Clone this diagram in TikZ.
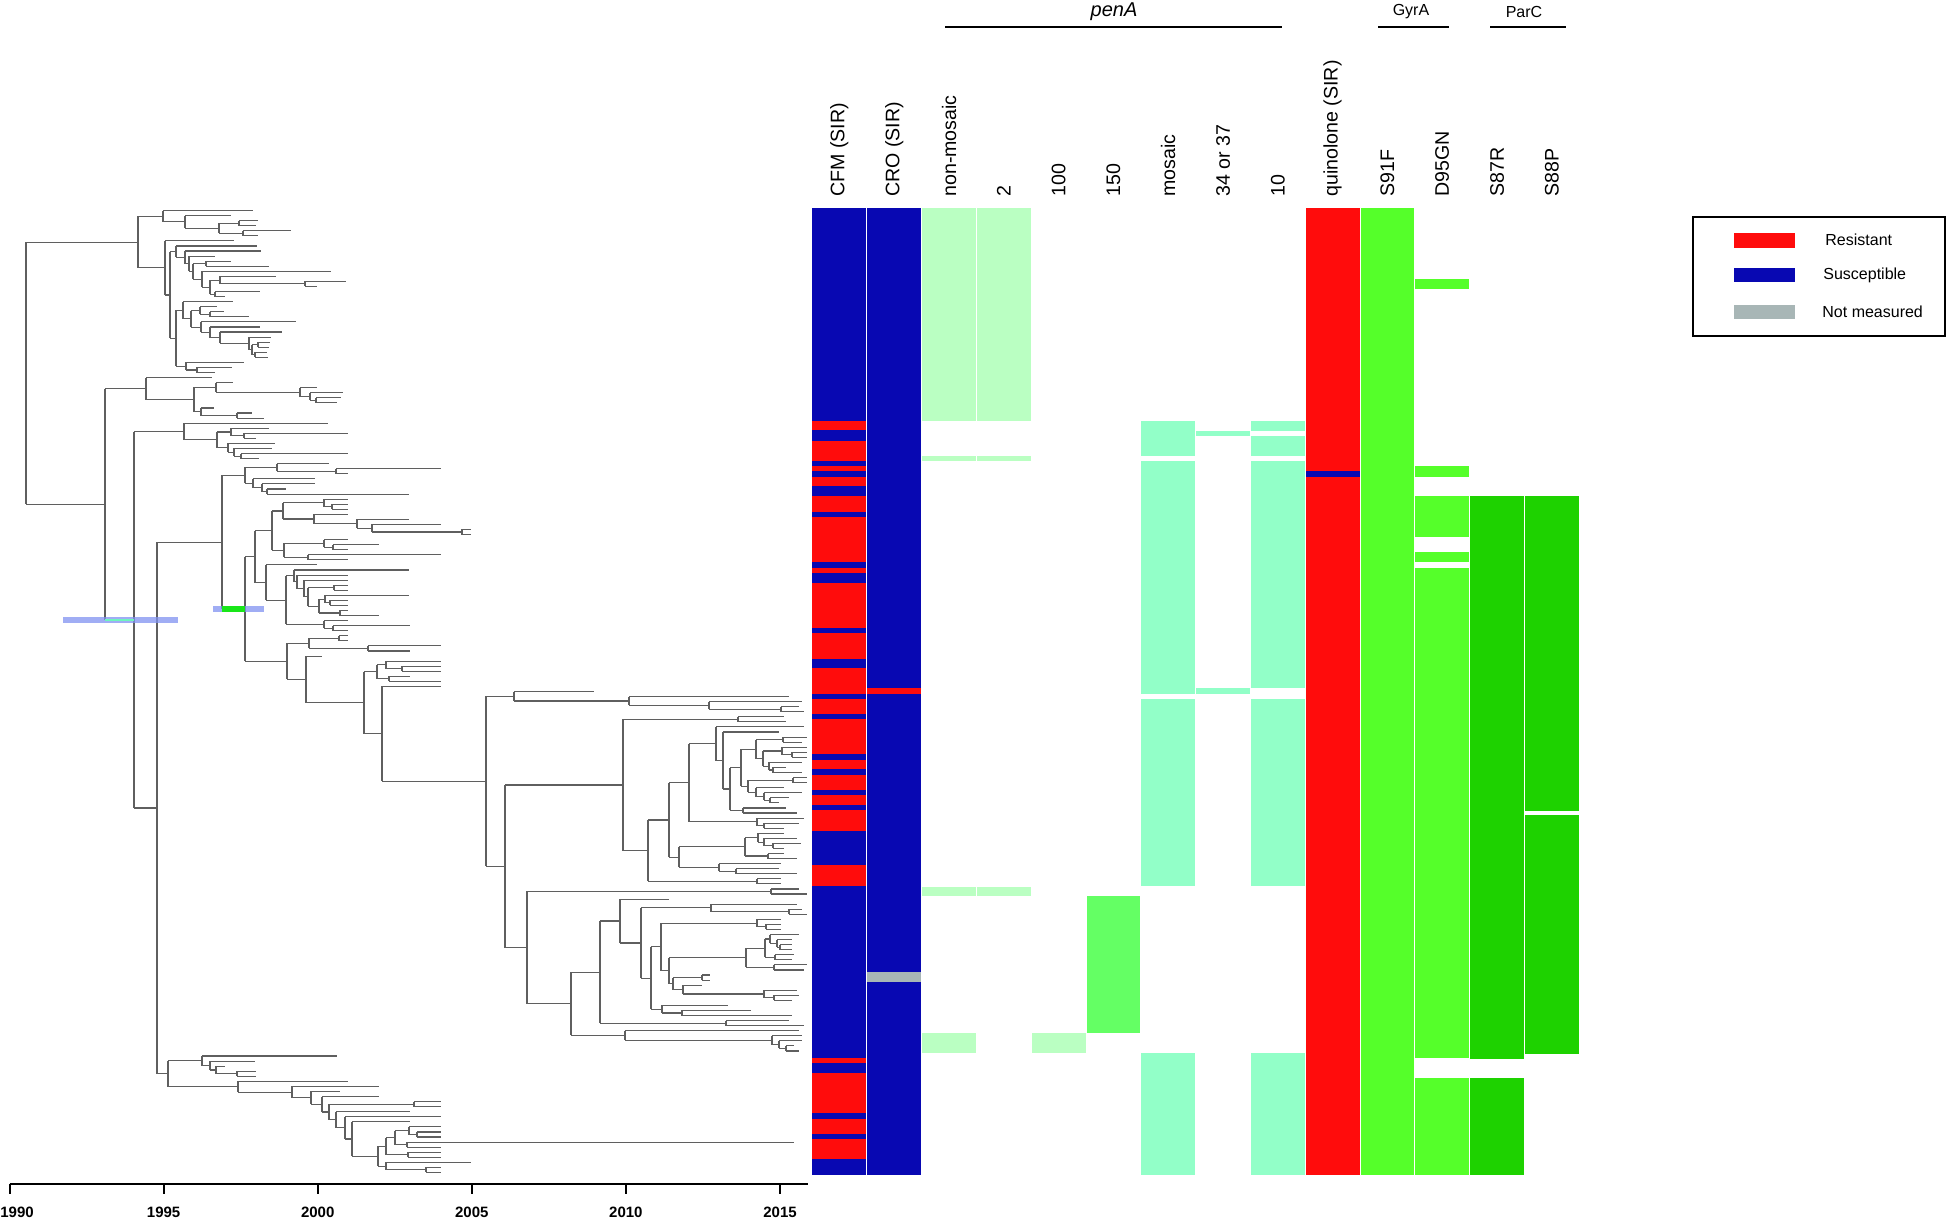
\documentclass[tikz,border=0pt]{standalone}
\usepackage{fontspec}
\setmainfont{Liberation Sans}

\definecolor{resred}{RGB}{255,12,12}
\definecolor{susblue}{RGB}{8,8,178}
\definecolor{nmgrey}{RGB}{168,182,182}
\definecolor{nonmos}{RGB}{186,255,194}
\definecolor{mosmint}{RGB}{146,255,200}
\definecolor{pengreen}{RGB}{100,255,100}
\definecolor{gyrgreen}{RGB}{85,255,42}
\definecolor{pargreen}{RGB}{30,210,0}
\definecolor{treegray}{RGB}{95,95,95}
\definecolor{barblue}{RGB}{128,145,240}
\definecolor{mintbr}{RGB}{110,245,190}
\definecolor{grnbr}{RGB}{25,230,25}

% tree helpers: tips are spread over the rows of the heat map
\newcount\leafno
\newif\iftreedraw
\def\rowh{5}
\def\cladex{26}
\newcommand\tipbr[1]{%
  \global\advance\leafno by 1
  \pgfmathsetmacro\tipy{208+(\the\leafno-0.5)*\rowh}%
  \iftreedraw\draw[branch] (\cladex,\tipy) -- (#1,\tipy);\fi
  \xdef\lasty{\tipy}}
\newcommand\clade[3]{{%
  \let\parentx\cladex\def\cladex{#1}%
  #2\let\ytop\lasty
  #3\let\ybot\lasty
  \pgfmathsetmacro\ymid{(\ytop+\ybot)/2}%
  \iftreedraw
    \draw[branch] (#1,\ytop) -- (#1,\ybot);
    \draw[branch] (\parentx,\ymid) -- (#1,\ymid);
  \fi
  \xdef\lasty{\ymid}}}

% upper clade
\newcommand\cladeua{%
  \clade{163}{\tipbr{253}}{%
    \clade{185}{\tipbr{231}}{%
      \clade{219}{\clade{239}{\tipbr{258}}{\tipbr{256}}}{\clade{243}{\tipbr{291}}{\tipbr{258}}}%
    }%
  }%
}
\newcommand\cladeub{%
  \clade{165}{\tipbr{234}}{%
    \clade{170}{%
      \clade{176}{\tipbr{257}}{%
        \clade{185}{\tipbr{261}}{%
          \clade{189}{\tipbr{215}}{%
            \clade{193}{\clade{206}{\tipbr{231}}{\tipbr{269}}}{%
              \clade{202}{\tipbr{331}}{%
                \clade{210}{\clade{220}{\tipbr{276}}{\clade{305}{\tipbr{346}}{\tipbr{317}}}}{\clade{215}{\tipbr{260}}{\tipbr{225}}}%
              }%
            }%
          }%
        }%
      }%
    }{%
      \clade{176}{%
        \clade{183}{\tipbr{233}}{%
          \clade{191}{\clade{200}{\tipbr{217}}{\clade{210}{\tipbr{224}}{\tipbr{249}}}}{%
            \clade{201}{\tipbr{296}}{%
              \clade{210}{\tipbr{260}}{%
                \clade{220}{\tipbr{282}}{%
                  \clade{249}{\tipbr{271}}{\clade{252}{\clade{258}{\tipbr{270}}{\tipbr{269}}}{\clade{255}{\tipbr{267}}{\tipbr{268}}}}%
                }%
              }%
            }%
          }%
        }%
      }{\clade{186}{\tipbr{244}}{\clade{197}{\tipbr{232}}{\tipbr{215}}}}%
    }%
  }%
}
\newcommand\cladeupper{\clade{138}{\cladeua}{\cladeub}}

% lower clade
\newcommand\cladebone{%
  \clade{146}{\tipbr{212}}{%
    \clade{194}{%
      \clade{216}{\tipbr{233}}{\clade{300}{\tipbr{317}}{\clade{310}{\tipbr{343}}{\clade{316}{\tipbr{341}}{\tipbr{337}}}}}%
    }{\clade{201}{\tipbr{214}}{\clade{237}{\tipbr{252}}{\tipbr{264}}}}%
  }%
}
\newcommand\cladebtwoa{%
  \clade{184}{\tipbr{328}}{%
    \clade{217}%
      {\clade{231}{\tipbr{269}}{\clade{244}{\tipbr{348}}{\tipbr{256}}}}%
      {\clade{228}{\tipbr{275}}{\clade{234}{\tipbr{272}}{\clade{241}{\tipbr{348}}{\tipbr{259}}}}}%
  }%
}
\newcommand\cladeearly{%
  \clade{245}%
    {\clade{277}{\tipbr{329}}{\clade{336}{\tipbr{441}}{\tipbr{348}}}}%
    {\clade{253}{\tipbr{315}}{\clade{262}{\tipbr{315}}{\clade{267}{\tipbr{286}}{\tipbr{409}}}}}%
}
\newcommand\cladeaa{%
  \clade{272}{%
    \clade{283}%
      {\clade{324}{\tipbr{348}}{\clade{332}{\tipbr{348}}{\tipbr{348}}}}%
      {\clade{314}{\tipbr{348}}{\clade{357}{\tipbr{409}}{\clade{372}{\tipbr{441}}{\clade{462}{\tipbr{471}}{\tipbr{471}}}}}}%
  }{%
    \clade{284}%
      {\clade{324}{\tipbr{348}}{\clade{333}{\tipbr{379}}{\tipbr{348}}}}%
      {\clade{308}{\tipbr{441}}{\tipbr{348}}}%
  }%
}
\newcommand\cladeab{%
  \clade{266}{\tipbr{317}}{%
    \clade{286}{%
      \clade{294}{\tipbr{409}}{%
        \clade{297}{\tipbr{348}}{%
          \clade{304}{\tipbr{348}}{%
            \clade{308}{\clade{334}{\tipbr{348}}{\tipbr{348}}}{%
              \clade{319}{\clade{325}{\tipbr{409}}{\clade{330}{\tipbr{348}}{\tipbr{348}}}}{\clade{340}{\tipbr{348}}{\tipbr{379}}}%
            }%
          }%
        }%
      }%
    }{\clade{324}{\tipbr{348}}{\clade{333}{\tipbr{410}}{\tipbr{348}}}}%
  }%
}
\newcommand\cladeqa{%
  \clade{514}{\tipbr{594}}{\clade{629}{\tipbr{789}}{\clade{709}{\tipbr{802}}{\clade{781}{\tipbr{799}}{\tipbr{804}}}}}%
}
\newcommand\cladeqb{%
  \clade{623}{\clade{738}{\tipbr{784}}{\tipbr{786}}}{%
    \clade{648}{%
      \clade{669}{%
        \clade{689}{%
          \clade{716}{\tipbr{804}}{%
            \clade{723}{\tipbr{779}}{%
              \clade{730}{%
                \clade{741}{%
                  \clade{756}{\clade{783}{\tipbr{807}}{\tipbr{802}}}{%
                    \clade{763}%
                      {\clade{782}{\tipbr{807}}{\clade{792}{\tipbr{807}}{\tipbr{807}}}}%
                      {\clade{769}{\tipbr{802}}{\clade{773}{\tipbr{786}}{\tipbr{802}}}}%
                  }%
                }{%
                  \clade{748}{\clade{793}{\tipbr{807}}{\tipbr{807}}}{%
                    \clade{756}{\tipbr{784}}{\clade{764}{\tipbr{802}}{\clade{770}{\tipbr{789}}{\tipbr{779}}}}%
                  }%
                }%
              }{\clade{743}{\tipbr{786}}{\tipbr{797}}}%
            }%
          }%
        }{\clade{757}{\tipbr{804}}{\clade{764}{\tipbr{799}}{\tipbr{784}}}}%
      }{%
        \clade{679}%
          {\clade{745}{\clade{758}{\tipbr{784}}{\clade{764}{\tipbr{797}}{\clade{773}{\tipbr{801}}{\tipbr{784}}}}}{\clade{768}{\tipbr{784}}{\tipbr{797}}}}%
          {\clade{719}{\tipbr{781}}{\clade{736}{\tipbr{779}}{\tipbr{797}}}}%
      }%
    }{\clade{757}{\tipbr{781}}{\tipbr{781}}}%
  }%
}
\newcommand\cladeqc{%
  \clade{527}{\clade{771}{\tipbr{799}}{\tipbr{807}}}{%
    \clade{571}{%
      \clade{600}{%
        \clade{620}{\tipbr{669}}{%
          \clade{641}{\clade{711}{\tipbr{797}}{\clade{789}{\tipbr{802}}{\tipbr{807}}}}{%
            \clade{651}{%
              \clade{661}{\clade{757}{\tipbr{781}}{\clade{766}{\tipbr{781}}{\tipbr{781}}}}{%
                \clade{669}{%
                  \clade{746}%
                    {\clade{765}{\clade{770}{\tipbr{799}}{\clade{777}{\tipbr{792}}{\clade{780}{\tipbr{792}}{\tipbr{792}}}}}{\clade{775}{\tipbr{794}}{\tipbr{792}}}}%
                    {\clade{774}{\tipbr{807}}{\tipbr{804}}}%
                }{%
                  \clade{673}{\clade{702}{\tipbr{710}}{\tipbr{710}}}{\clade{683}{\tipbr{702}}{\clade{764}{\tipbr{797}}{\clade{774}{\tipbr{799}}{\tipbr{792}}}}}%
                }%
              }%
            }{\clade{662}{\tipbr{728}}{\clade{682}{\tipbr{751}}{\tipbr{792}}}}%
          }%
        }%
      }{\clade{726}{\tipbr{789}}{\tipbr{804}}}%
    }{\clade{625}{\tipbr{799}}{\clade{772}{\tipbr{802}}{\clade{779}{\tipbr{802}}{\clade{786}{\tipbr{794}}{\tipbr{799}}}}}}%
  }%
}
\newcommand\cladeac{%
  \clade{287}%
    {\clade{309}{\clade{339}{\tipbr{348}}{\tipbr{348}}}{\clade{368}{\tipbr{441}}{\tipbr{410}}}}{%
    \clade{306}{\tipbr{322}}{%
      \clade{364}%
        {\clade{377}{\clade{386}{\tipbr{441}}{\clade{402}{\tipbr{441}}{\tipbr{441}}}}{\clade{389}{\tipbr{410}}{\tipbr{441}}}}{%
        \clade{382}{\tipbr{441}}{%
          \clade{486}{\cladeqa}{\clade{505}{\cladeqb}{\cladeqc}}%
        }%
      }%
    }%
  }%
}
\newcommand\cladebottom{%
  \clade{168}{\clade{202}{\tipbr{337}}{\clade{210}{\tipbr{255}}{\clade{216}{\tipbr{225}}{\clade{237}{\tipbr{256}}{\tipbr{256}}}}}}{%
    \clade{238}{\tipbr{348}}{%
      \clade{292}{\tipbr{379}}{%
        \clade{311}{\tipbr{340}}{%
          \clade{322}{\tipbr{379}}{%
            \clade{329}{\clade{414}{\tipbr{441}}{\tipbr{441}}}{%
              \clade{336}{\tipbr{410}}{%
                \clade{345}{\tipbr{441}}{%
                  \clade{352}{\tipbr{410}}{%
                    \clade{378}{%
                      \clade{386}%
                        {\clade{395}{\clade{409}{\tipbr{441}}{\clade{417}{\tipbr{441}}{\tipbr{441}}}}{\clade{407}{\tipbr{794}}{\tipbr{441}}}}%
                        {\clade{408}{\tipbr{441}}{\tipbr{441}}}%
                    }{\clade{386}{\tipbr{471}}{\clade{426}{\tipbr{441}}{\tipbr{441}}}}%
                  }%
                }%
              }%
            }%
          }%
        }%
      }%
    }%
  }%
}
\newcommand\phylo{%
  \clade{26}{\cladeupper}{%
    \clade{105}{\cladebone}{%
      \clade{134}{\cladebtwoa}{%
        \clade{157}{%
          \clade{222}{\cladeearly}{%
            \clade{245}{\clade{255}{\cladeaa}{\cladeab}}{\cladeac}%
            \global\let\ygreen\lasty}%
        }{\cladebottom}%
      }%
      \global\let\ymint\lasty}%
  }%
}

\begin{document}
\begin{tikzpicture}[x=0.5pt, y=-0.5pt,
    branch/.style={treegray, line width=0.55pt},
    colhead/.style={rotate=90, anchor=west, inner sep=0pt,
      font=\fontsize{9.8}{12}\selectfont},
    grouphead/.style={inner sep=0pt, font=\fontsize{8}{10}\selectfont},
    legtext/.style={anchor=west, inner sep=0pt, font=\fontsize{8}{10}\selectfont},
    yearlab/.style={inner sep=0pt, font=\bfseries\fontsize{7.5}{9}\selectfont}]
  \useasboundingbox (0,0) rectangle (1947,1219);
  % --- Left: dated tree (first pass counts the tips) ---
  \global\leafno=0 \treedrawfalse \phylo
  \pgfmathsetmacro\rowh{967/\the\leafno}
  \global\leafno=0 \treedrawtrue \phylo
  % node bars and coloured branches
  \fill[barblue, fill opacity=0.75] (63,{\ymint-3.2}) rectangle (178,{\ymint+3.2});
  \draw[mintbr, line width=1.2pt] (105,\ymint) -- (134,\ymint);
  \fill[barblue, fill opacity=0.75] (213,{\ygreen-3.2}) rectangle (264,{\ygreen+3.2});
  \fill[grnbr] (222,{\ygreen-3.2}) rectangle (245,{\ygreen+3.2});
  % time axis
  \draw[line width=1pt] (9.5,1184) -- (808,1184);
  \foreach \k in {0,...,5}
    \draw[line width=1pt] ({9.5+154.1*\k},1184) -- ({9.5+154.1*\k},1194);
  \node[yearlab, anchor=west] (yr1990) at (0,1212) {1990};
  \foreach \yr [count=\k from 1] in {1995,2000,...,2015}
    \node[yearlab] (yr\yr) at ({9.5+154.1*\k},1212) {\yr};
  % --- Right: heat map, one column per trait ---
  \foreach \k/\c/\a/\b in {
      0/susblue/208/1175, 0/resred/421/430, 0/resred/441/461, 0/resred/466/471,
      0/resred/477/486, 0/resred/496/512, 0/resred/517/562, 0/resred/568/573,
      0/resred/583/628, 0/resred/633/659, 0/resred/668/694, 0/resred/699/714,
      0/resred/719/754, 0/resred/760/769, 0/resred/775/790, 0/resred/795/805,
      0/resred/810/831, 0/resred/865/886, 0/resred/1058/1063, 0/resred/1073/1113,
      0/resred/1119/1134, 0/resred/1139/1159,
      1/susblue/208/1175, 1/resred/688/694, 1/nmgrey/972/982,
      2/nonmos/208/421, 2/nonmos/456/461, 2/nonmos/887/896, 2/nonmos/1033/1053,
      3/nonmos/208/421, 3/nonmos/456/461, 3/nonmos/887/896,
      4/nonmos/1033/1053,
      5/pengreen/896/1033,
      6/mosmint/421/456, 6/mosmint/461/694, 6/mosmint/699/886, 6/mosmint/1053/1175,
      7/mosmint/431/436, 7/mosmint/688/694,
      8/mosmint/421/431, 8/mosmint/436/456, 8/mosmint/461/688, 8/mosmint/699/886,
      8/mosmint/1053/1175,
      9/resred/208/1175, 9/susblue/471/477,
      10/gyrgreen/208/1175,
      11/gyrgreen/279/289, 11/gyrgreen/466/477, 11/gyrgreen/496/537,
      11/gyrgreen/552/562, 11/gyrgreen/568/1058, 11/gyrgreen/1078/1175,
      12/pargreen/496/1059, 12/pargreen/1078/1175,
      13/pargreen/496/811, 13/pargreen/815/1054}
    \fill[fill=\c] ({812+54.8*\k},\a) rectangle ({866.8+54.8*\k},\b);
  \foreach \k in {1,...,13}
    \draw[white, line width=0.5pt] ({812+54.8*\k},208) -- ({812+54.8*\k},1175);
  % column headings
  \foreach \lab [count=\k from 0] in {CFM (SIR), CRO (SIR), non-mosaic, 2, 100,
      150, mosaic, 34 or 37, 10, quinolone (SIR), S91F, D95GN, S87R, S88P}
    \node[colhead] (col\k) at ({839.4+54.8*\k},197) {\lab};
  \node[inner sep=0pt, font=\itshape\fontsize{10}{12}\selectfont] (penA) at (1114,12) {penA};
  \node[grouphead] (gyrA) at (1411,12) {GyrA};
  \node[grouphead] (parC) at (1524,12) {ParC};
  \draw[line width=0.65pt] (945,27) -- (1282,27);
  \draw[line width=0.65pt] (1378,27) -- (1449,27);
  \draw[line width=0.65pt] (1490,27) -- (1566,27);
  % legend
  \draw[line width=1pt] (1693,217) rectangle (1945,336);
  \fill[resred] (1734,233) rectangle (1795,248);
  \fill[susblue] (1734,268) rectangle (1795,282);
  \fill[nmgrey] (1734,305) rectangle (1795,319);
  \node[legtext] (lres) at (1825,240) {Resistant};
  \node[legtext] (lsus) at (1823,275) {Susceptible};
  \node[legtext] (lnm) at (1822,312) {Not measured};
\end{tikzpicture}
\end{document}
